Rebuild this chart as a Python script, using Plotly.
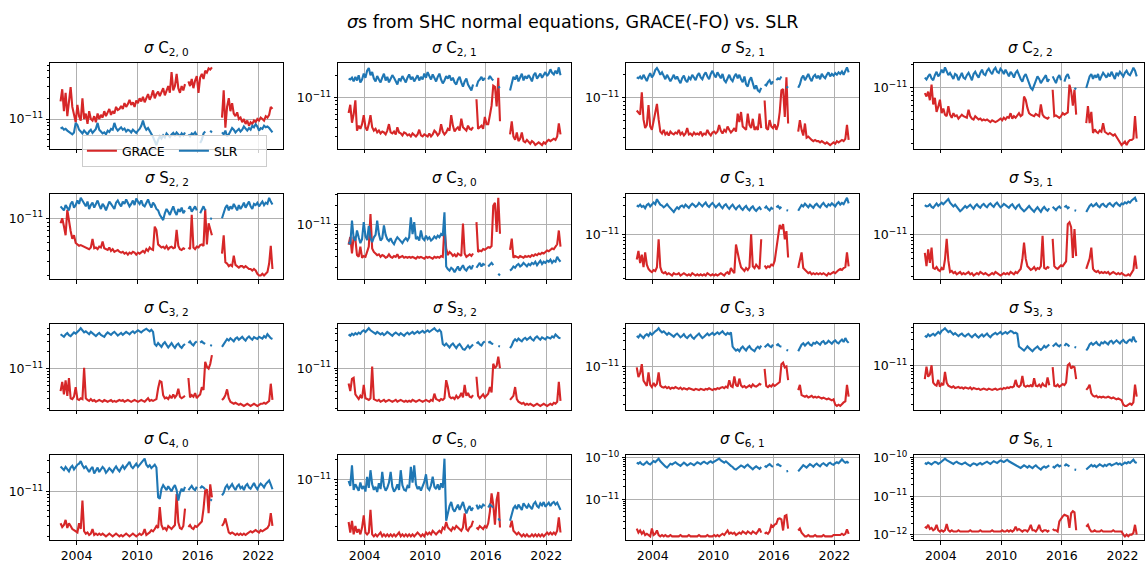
import math
import pandas as pd
import plotly.graph_objects as go

# Formal errors, stored in units of 1e-13; two-monthly samples from mid-2002.
SCALE = 1e-13
months = pd.date_range("2002-06-01", periods=127, freq="2MS")

c20_grace = [180, 270, 130, 240, 110, 200, 290, 150, 110, 90, 160, 110,
             95, 200, 100, 120, 85, 130, 100, 95, 110, 90, 120, 100,
             115, 105, 130, 110, 125, 140, 115, 130, 120, 150, 135, 140,
             155, 140, 170, 150, 165, 190, 160, 175, 150, 185, 170, 200,
             180, 210, 175, 200, 230, 190, 215, 260, 200, 230, 250, 215,
             240, 280, 220, 260, 300, 240, 480, 260, 300, 450, 280, 240,
             300, 260, 320, None, 350, 300, 380, 280, 360, 420, 240, 400,
             450, 380, 500, 470, 540, 520, 560,
             None, None, None, None, None,
             105, 260, 75, 150, 200, 130, 170, 120, 110, 125, 100, 105,
             90, 100, 85, 95, 80, 90, 85, 95, 90, 100, 95, 105,
             100, 95, 110, 105, 115, 150, 140]
c20_slr = [73, 75, 70, 72, 68, 65, 62, 60, 64, 88, 82, 70,
           66, 62, 68, 64, 60, 66, 70, 63, 67, 72, 88, 70,
           66, 62, 64, 60, 68, 65, 72, 70, 88, 74, 68, 72,
           76, 70, 73, 66, 70, 68, 64, 70, 66, 63, 68, 72,
           80, 95, 78, 70, 74, 68, 62, 55, 48, 42, 50, 56,
           52, 58, 54, 62, 58, 55, 60, 63, 58, 64, 60, 56,
           62, 58, 64, None, 60, 56, 62, 60, 64, 58, None, 45,
           50, 62, 66, None, None, 68, 64,
           None, None, None, None, None,
           64, 60, 68, 56, 60, 66, 74, 70, 64, 68, 72, 66,
           70, 78, 72, 68, 74, 70, 80, 76, 84, 78, 68, 74,
           72, 80, 76, 78, 74, 70, 64]

c21_grace = [62, 80, 46, 60, 92, 36, 42, 38, 44, 58, 40, 36,
             44, 58, 40, 36, 38, 34, 36, 33, 35, 34, 32, 36,
             44, 34, 33, 35, 32, 40, 34, 33, 31, 34, 33, 31,
             32, 30, 33, 31, 30, 32, 37, 31, 30, 32, 31, 30,
             33, 30, 32, 36, 34, 31, 33, 44, 35, 32, 34, 38,
             36, 58, 42, 35, 38, 40, 36, 52, 40, 38, 36, 42,
             38, 37, 40, None, 95, 38, 40, 42, 38, 55, 44, 44,
             58, 78, 145, 140, 76, 185, 48,
             None, None, None, None, None,
             32, 48, 30, 27, 34, 26, 28, 34, 26, 25, 27, 25,
             24, 26, 25, 23, 24, 25, 24, 23, 25, 24, 26, 27,
             26, 27, 28, 27, 30, 45, 32]
c21_slr = [180, 175, 185, 165, 190, 170, 200, 160, 175, 210, 185, 230,
           250, 200, 220, 180, 165, 195, 175, 160, 185, 210, 170, 190,
           160, 175, 200, 185, 165, 150, 180, 170, 195, 175, 160, 185,
           205, 175, 190, 165, 180, 200, 170, 190, 175, 210, 185, 220,
           195, 175, 205, 180, 165, 190, 210, 175, 155, 170, 195, 180,
           200, 170, 185, 160, 150, 175, 190, 160, 140, 165, 180, 150,
           135, 125, 150, None, 140, 165, 175, 190, 170, 185, None, 175,
           195, 180, 170, None, None, 135, 140,
           None, None, None, None, None,
           125, 160, 190, 175, 200, 165, 185, 210, 170, 195, 180, 200,
           185, 165, 200, 215, 180, 195, 210, 185, 200, 220, 195, 210,
           240, 215, 205, 230, 210, 255, 200]

s21_grace = [68, 64, 60, 118, 52, 40, 44, 80, 42, 38, 50, 59,
             83, 52, 36, 34, 38, 33, 35, 32, 36, 34, 33, 35,
             34, 38, 33, 35, 32, 34, 40, 33, 34, 32, 35, 33,
             34, 33, 36, 32, 34, 33, 38, 34, 32, 35, 36, 34,
             36, 44, 37, 34, 38, 36, 42, 38, 35, 37, 40, 36,
             62, 48, 65, 42, 40, 38, 62, 44, 40, 53, 38, 41,
             38, 62, 40, None, 92, 40, 38, 51, 42, 40, 45, 38,
             44, 65, 125, 130, 56, 185, 46,
             None, None, None, None, None,
             36, 51, 38, 32, 46, 30, 31, 29, 28, 27, 28, 27,
             27, 26, 27, 26, 25, 26, 25, 24, 25, 26, 25, 27,
             26, 27, 28, 27, 29, 44, 28]
s21_slr = [185, 180, 190, 175, 200, 185, 165, 190, 210, 185, 200, 230,
           245, 225, 200, 215, 190, 175, 200, 185, 165, 180, 200, 175,
           190, 170, 155, 180, 195, 170, 160, 185, 175, 200, 185, 170,
           195, 210, 185, 175, 200, 215, 190, 175, 205, 225, 200, 185,
           215, 195, 180, 205, 170, 160, 185, 200, 175, 165, 190, 205,
           180, 200, 175, 160, 190, 150, 140, 170, 185, 160, 130, 145,
           125, 120, 135, None, 150, 145, 160, 170, 150, 165, None, 170,
           180, 175, 190, None, None, 140, 135,
           None, None, None, None, None,
           135, 150, 180, 195, 170, 190, 205, 180, 165, 190, 200, 180,
           195, 175, 205, 190, 180, 200, 215, 190, 205, 195, 210, 200,
           215, 205, 220, 200, 230, 250, 215]

c22_grace = [86, 78, 90, 70, 110, 62, 75, 50, 58, 71, 48, 55,
             46, 44, 59, 46, 42, 48, 44, 45, 41, 43, 46, 44,
             43, 42, 53, 44, 41, 40, 44, 42, 40, 41, 39, 40,
             39, 40, 38, 37, 39, 38, 37, 38, 40, 41, 39, 42,
             40, 43, 42, 48, 41, 44, 42, 45, 48, 44, 46, 78,
             71, 56, 48, 46, 45, 44, 47, 46, 44, 62, 46, 43,
             42, 41, 43, None, 95, 44, 45, 43, 42, 44, 48, 46,
             47, 49, 110, 91, 60, 95, 46,
             None, None, None, None, None,
             36, 59, 36, 50, 27, 30, 28, 27, 29, 28, 36, 28,
             27, 26, 27, 26, 25, 26, 24, 22, 21, 19, 20, 21,
             19, 21, 22, 22, 23, 44, 23]
c22_slr = [135, 128, 140, 150, 132, 125, 145, 160, 140, 150, 170, 155,
           182, 160, 145, 155, 140, 130, 150, 145, 125, 140, 155, 135,
           130, 145, 155, 140, 125, 150, 160, 145, 135, 155, 170, 150,
           145, 165, 175, 160, 150, 170, 180, 160, 155, 175, 165, 150,
           170, 155, 140, 160, 150, 135, 155, 165, 145, 130, 120, 140,
           150, 130, 115, 100, 95, 110, 125, 140, 130, 115, 125, 135,
           145, 120, 130, None, 140, 125, 115, 135, 145, 125, None, 120,
           140, 150, 130, None, None, 100, 96,
           None, None, None, None, None,
           100, 120, 140, 150, 130, 145, 135, 150, 125, 140, 155, 145,
           135, 150, 140, 160, 145, 130, 155, 145, 160, 150, 140, 155,
           165, 150, 145, 160, 180, 165, 140]

s22_grace = [87, 100, 80, 62, 127, 90, 70, 56, 62, 50, 48, 46,
             47, 46, 45, 44, 43, 42, 44, 56, 43, 44, 42, 45,
             44, 52, 43, 42, 41, 44, 40, 42, 39, 40, 41, 39,
             38, 39, 37, 38, 36, 38, 37, 39, 38, 36, 38, 37,
             39, 40, 38, 42, 40, 44, 42, 41, 79, 72, 48, 46,
             44, 45, 43, 46, 42, 44, 45, 43, 44, 72, 46, 42,
             41, 43, 42, None, 44, 42, 110, 44, 42, 45, 44, 47,
             48, 46, 130, 48, 87, 72, 62,
             None, None, None, None, None,
             37, 62, 29, 28, 26, 27, 26, 35, 27, 26, 25, 26,
             26, 25, 26, 25, 24, 24, 23, 24, 23, 21, 20, 20,
             21, 20, 21, 22, 28, 46, 24]
s22_slr = [140, 130, 125, 145, 135, 125, 150, 160, 135, 145, 165, 150,
           178, 165, 150, 140, 160, 130, 145, 155, 135, 150, 165, 145,
           130, 150, 140, 125, 145, 160, 150, 140, 130, 155, 165, 150,
           140, 160, 150, 170, 155, 140, 150, 165, 145, 175, 160, 150,
           165, 145, 140, 155, 170, 150, 135, 155, 145, 130, 125, 110,
           100, 95, 115, 130, 120, 110, 125, 140, 120, 110, 130, 120,
           135, 115, 125, None, 130, 140, 120, 130, 140, 125, None, 115,
           130, 140, 125, None, None, 100, 98,
           None, None, None, None, None,
           100, 118, 135, 145, 125, 140, 130, 150, 135, 125, 145, 130,
           140, 155, 135, 145, 160, 140, 130, 150, 145, 155, 140, 150,
           160, 145, 155, 150, 178, 160, 147]

c30_grace = [47, 63, 34, 63, 58, 32, 30, 44, 29, 31, 30, 36,
             44, 147, 41, 36, 34, 32, 33, 30, 32, 31, 29, 30,
             33, 30, 29, 31, 30, 33, 29, 30, 31, 29, 30, 29,
             30, 29, 30, 29, 28, 30, 29, 30, 29, 28, 30, 29,
             30, 29, 28, 30, 29, 30, 29, 31, 30, 91, 41, 32,
             36, 34, 31, 33, 30, 34, 32, 31, 104, 34, 30, 32,
             33, 31, 34, None, 109, 36, 38, 37, 40, 39, 41, 43,
             42, 45, 200, 225, 76, 270, 71,
             None, None, None, None, None,
             39, 59, 29, 31, 30, 29, 31, 30, 29, 31, 30, 31,
             30, 32, 31, 33, 32, 34, 33, 35, 34, 36, 38, 37,
             39, 41, 40, 43, 48, 80, 44]
c30_slr = [52, 48, 116, 60, 55, 80, 62, 50, 58, 109, 65, 56,
           95, 60, 52, 62, 68, 116, 70, 55, 60, 97, 68, 58,
           54, 60, 52, 48, 56, 62, 58, 54, 50, 56, 60, 55,
           62, 130, 70, 109, 58, 62, 55, 80, 60, 56, 66, 58,
           62, 55, 58, 64, 60, 66, 62, 70, 66, 157, 21, 19,
           18, 20, 19, 17, 19, 21, 18, 20, 22, 19, 18, 20,
           21, 19, 22, None, 20, 22, 24, 21, 23, 22, None, 21,
           23, 24, 22, None, None, 16, 15,
           None, None, None, None, None,
           18, 19, 21, 20, 22, 23, 21, 22, 24, 22, 21, 23,
           22, 24, 23, 25, 22, 24, 26, 23, 25, 24, 26, 25,
           27, 24, 26, 25, 30, 27, 25]

c31_grace = [40, 55, 35, 48, 30, 52, 33, 28, 26, 25, 27, 26,
             30, 85, 30, 25, 24, 25, 23, 24, 23, 22, 24, 23,
             23, 24, 22, 23, 24, 23, 22, 23, 22, 24, 23, 22,
             23, 22, 23, 22, 23, 22, 24, 23, 22, 23, 22, 23,
             22, 23, 24, 23, 22, 24, 25, 23, 29, 26, 24, 70,
             48, 38, 30, 28, 26, 29, 27, 30, 102, 31, 29, 33,
             30, 28, 85, None, 32, 29, 31, 30, 33, 32, 38, 60,
             102, 146, 124, 150, 85, 115, 43,
             None, None, None, None, None,
             29, 40, 52, 29, 27, 25, 24, 25, 23, 24, 23, 24,
             23, 24, 23, 24, 23, 22, 24, 23, 24, 25, 24, 26,
             27, 28, 27, 29, 30, 52, 31]
c31_slr = [300, 290, 310, 285, 295, 270, 305, 320, 290, 310, 335, 315,
           380, 340, 310, 300, 280, 295, 315, 290, 270, 250, 235, 260,
           280, 265, 290, 300, 280, 310, 295, 275, 300, 320, 305, 285,
           300, 330, 310, 290, 315, 335, 300, 285, 310, 330, 305, 280,
           300, 320, 290, 270, 300, 315, 285, 265, 290, 310, 280, 260,
           285, 300, 270, 255, 280, 295, 265, 250, 275, 290, 260, 245,
           265, 280, 255, None, 270, 290, 265, 250, 275, 260, None, 280,
           295, 270, 285, None, None, 252, 248,
           None, None, None, None, None,
           246, 280, 305, 290, 320, 300, 280, 310, 295, 275, 305, 320,
           295, 280, 310, 330, 300, 285, 315, 300, 325, 305, 290, 320,
           340, 310, 330, 315, 360, 400, 325]

s31_grace = [50, 30, 57, 34, 61, 28, 27, 29, 26, 25, 28, 26,
             39, 85, 37, 24, 25, 23, 24, 22, 23, 24, 22, 23,
             22, 23, 24, 22, 23, 21, 22, 23, 22, 24, 23, 22,
             23, 22, 21, 22, 23, 22, 24, 23, 22, 21, 22, 23,
             22, 23, 22, 24, 23, 22, 24, 23, 25, 27, 39, 74,
             40, 30, 28, 26, 27, 29, 26, 28, 27, 30, 96, 28,
             27, 29, 28, None, 85, 30, 28, 27, 29, 31, 30, 33,
             36, 150, 161, 133, 41, 124, 44,
             None, None, None, None, None,
             27, 33, 40, 61, 27, 25, 24, 25, 23, 24, 23, 24,
             23, 24, 22, 23, 24, 23, 22, 23, 22, 23, 22, 21,
             21, 22, 21, 23, 26, 45, 27]
s31_slr = [310, 295, 300, 320, 290, 280, 305, 330, 300, 315, 340, 320,
           345, 370, 390, 340, 310, 295, 315, 290, 270, 245, 260, 285,
           300, 280, 295, 315, 290, 270, 300, 320, 295, 280, 310, 325,
           300, 285, 315, 330, 305, 290, 320, 340, 310, 285, 300, 325,
           310, 295, 280, 305, 320, 290, 270, 300, 315, 280, 265, 245,
           260, 285, 300, 275, 250, 240, 265, 285, 260, 240, 270, 290,
           265, 250, 275, None, 290, 270, 255, 280, 295, 270, None, 285,
           300, 275, 290, None, None, 255, 250,
           None, None, None, None, None,
           238, 270, 300, 320, 295, 310, 330, 300, 285, 315, 325, 300,
           290, 320, 335, 310, 295, 325, 340, 315, 300, 330, 320, 345,
           330, 355, 340, 370, 395, 410, 350]

c32_grace = [40, 58, 35, 62, 33, 68, 30, 29, 32, 47, 29, 28,
             30, 29, 103, 30, 28, 27, 29, 27, 28, 26, 27, 28,
             27, 26, 28, 27, 26, 27, 28, 26, 27, 26, 27, 28,
             27, 28, 26, 27, 28, 27, 26, 27, 28, 27, 26, 27,
             28, 27, 26, 28, 30, 27, 28, 27, 28, 29, 45, 60,
             58, 34, 30, 31, 29, 33, 30, 35, 31, 34, 44, 32,
             30, 31, 33, None, 68, 31, 34, 32, 37, 30, 33, 35,
             47, 42, 131, 107, 100, 120, 172,
             None, None, None, None, None,
             28, 30, 34, 43, 30, 26, 25, 24, 25, 24, 23, 24,
             23, 22, 23, 24, 23, 22, 23, 24, 23, 22, 23, 24,
             24, 25, 24, 26, 27, 54, 28]
c32_slr = [400, 380, 360, 395, 420, 385, 370, 400, 430, 410, 450, 470,
           510, 460, 430, 450, 420, 400, 440, 410, 390, 370, 400, 420,
           390, 380, 360, 400, 430, 410, 390, 420, 440, 410, 380, 400,
           420, 390, 410, 440, 420, 400, 430, 450, 420, 440, 470, 450,
           430, 460, 480, 500, 470, 450, 480, 440, 270, 250, 280, 260,
           240, 270, 290, 260, 235, 255, 280, 250, 230, 260, 275, 245,
           230, 255, 270, None, 280, 300, 270, 255, 285, 300, None, 285,
           300, 280, 270, None, None, 258, 250,
           None, None, None, None, None,
           240, 265, 300, 330, 310, 340, 320, 300, 335, 350, 320, 340,
           360, 330, 310, 345, 365, 340, 320, 355, 340, 330, 360, 345,
           335, 370, 350, 400, 360, 340, 330]

s32_grace = [54, 40, 65, 68, 35, 31, 29, 33, 30, 51, 30, 29,
             28, 30, 107, 29, 28, 27, 28, 26, 27, 28, 26, 27,
             28, 27, 26, 27, 28, 26, 27, 28, 27, 26, 27, 26,
             27, 26, 28, 27, 26, 27, 28, 27, 26, 27, 28, 27,
             26, 28, 27, 36, 29, 28, 27, 29, 28, 30, 62, 47,
             32, 30, 31, 29, 33, 30, 32, 37, 31, 51, 33, 37,
             32, 31, 34, None, 71, 33, 30, 32, 35, 31, 34, 36,
             47, 38, 120, 100, 110, 160, 100,
             None, None, None, None, None,
             28, 30, 33, 47, 29, 26, 25, 24, 25, 23, 24, 23,
             24, 23, 22, 23, 24, 23, 22, 23, 24, 23, 22, 23,
             24, 23, 25, 24, 26, 58, 27]
s32_slr = [390, 370, 400, 380, 410, 390, 420, 400, 440, 460, 430, 470,
           500, 460, 440, 420, 400, 430, 410, 390, 410, 380, 400, 430,
           410, 390, 370, 400, 420, 400, 380, 410, 390, 370, 400, 420,
           390, 410, 430, 400, 420, 440, 410, 430, 450, 420, 440, 460,
           430, 450, 470, 500, 460, 440, 470, 430, 265, 250, 270, 245,
           230, 255, 270, 245, 225, 250, 265, 240, 215, 210, 235, 250,
           225, 245, 260, None, 270, 285, 260, 250, 280, 295, None, 280,
           290, 270, 265, None, None, 245, 240,
           None, None, None, None, None,
           225, 250, 295, 320, 300, 330, 310, 295, 325, 340, 315, 335,
           350, 320, 305, 340, 360, 335, 315, 345, 330, 320, 350, 340,
           330, 360, 345, 390, 355, 340, 335]

c33_grace = [96, 64, 75, 110, 55, 50, 44, 78, 46, 42, 50, 44,
             48, 78, 45, 42, 41, 43, 40, 42, 39, 41, 40, 42,
             40, 39, 41, 38, 40, 39, 38, 40, 39, 38, 37, 39,
             38, 37, 39, 38, 37, 39, 38, 40, 38, 37, 39, 38,
             40, 39, 41, 42, 40, 43, 41, 56, 44, 42, 66, 46,
             43, 60, 45, 42, 44, 41, 43, 45, 42, 47, 44, 43,
             45, 48, 46, None, 90, 44, 42, 45, 43, 47, 44, 46,
             48, 52, 110, 118, 96, 100, 56,
             None, None, None, None, None,
             37, 46, 30, 29, 28, 29, 27, 28, 29, 27, 28, 27,
             28, 27, 26, 27, 26, 25, 26, 25, 24, 25, 20, 19,
             20, 19, 21, 22, 23, 46, 28]
c33_slr = [360, 340, 380, 350, 330, 370, 390, 360, 410, 380, 420, 440,
           460, 500, 450, 420, 440, 400, 380, 410, 390, 360, 350, 380,
           400, 370, 340, 360, 390, 350, 330, 360, 380, 340, 320, 350,
           370, 400, 360, 330, 350, 380, 400, 370, 390, 410, 380, 400,
           420, 390, 410, 440, 400, 380, 410, 390, 420, 230, 210, 195,
           205, 190, 215, 230, 210, 195, 220, 235, 210, 200, 190, 215,
           230, 215, 240, None, 225, 245, 255, 235, 225, 250, None, 240,
           255, 235, 230, None, None, 200, 195,
           None, None, None, None, None,
           190, 215, 250, 265, 240, 260, 275, 250, 240, 270, 260, 280,
           265, 250, 280, 290, 260, 270, 295, 275, 260, 285, 300, 275,
           265, 290, 310, 280, 330, 290, 270]

s33_grace = [58, 97, 64, 70, 103, 50, 46, 44, 56, 42, 48, 45,
             78, 50, 44, 42, 41, 43, 40, 41, 42, 40, 41, 39,
             41, 40, 39, 41, 38, 40, 39, 38, 39, 37, 38, 39,
             38, 37, 39, 38, 37, 38, 39, 37, 38, 39, 38, 40,
             39, 41, 40, 42, 41, 43, 56, 44, 42, 45, 66, 44,
             42, 44, 43, 45, 42, 60, 44, 43, 46, 42, 48, 44,
             43, 62, 45, None, 95, 44, 43, 46, 42, 44, 47, 45,
             50, 103, 110, 90, 98, 95, 58,
             None, None, None, None, None,
             37, 40, 46, 32, 29, 28, 29, 27, 28, 27, 28, 27,
             27, 28, 27, 26, 27, 26, 25, 26, 25, 24, 20, 19,
             19, 20, 21, 20, 22, 46, 28]
s33_slr = [350, 335, 370, 345, 365, 380, 355, 390, 410, 385, 430, 450,
           480, 440, 410, 430, 395, 370, 390, 360, 345, 370, 385, 355,
           340, 365, 380, 350, 330, 355, 375, 345, 325, 350, 370, 340,
           360, 385, 350, 330, 360, 380, 395, 370, 385, 410, 375, 395,
           410, 385, 405, 430, 415, 390, 400, 380, 225, 210, 200, 190,
           205, 225, 210, 195, 185, 200, 215, 225, 205, 195, 210, 230,
           215, 235, 245, None, 225, 240, 255, 235, 225, 245, None, 230,
           250, 240, 225, None, None, 220, 215,
           None, None, None, None, None,
           190, 210, 245, 260, 240, 255, 270, 245, 235, 265, 255, 275,
           260, 245, 275, 285, 255, 270, 290, 270, 255, 280, 295, 270,
           260, 285, 300, 280, 340, 285, 270]

c40_grace = [32, 28, 30, 36, 27, 32, 29, 26, 25, 24, 23, 32,
             26, 72, 24, 22, 23, 21, 22, 26, 21, 22, 21, 22,
             21, 22, 21, 20, 21, 22, 21, 20, 21, 22, 21, 20,
             21, 20, 21, 22, 21, 20, 21, 22, 21, 20, 21, 22,
             21, 22, 26, 21, 22, 23, 25, 24, 26, 29, 27, 57,
             30, 26, 27, 25, 29, 27, 26, 28, 30, 91, 33, 27,
             26, 29, 54, None, 28, 30, 27, 26, 29, 28, 30, 32,
             34, 54, 102, 108, 46, 129, 81,
             None, None, None, None, None,
             29, 32, 38, 30, 23, 22, 23, 22, 21, 22, 21, 22,
             21, 22, 21, 22, 23, 24, 23, 24, 25, 24, 23, 25,
             24, 25, 26, 27, 30, 46, 29]
c40_slr = [243, 230, 215, 240, 225, 205, 235, 250, 220, 240, 260, 270,
           295, 255, 230, 245, 215, 200, 225, 240, 190, 210, 235, 200,
           215, 240, 225, 195, 210, 230, 215, 200, 225, 245, 220, 205,
           230, 250, 225, 240, 265, 288, 245, 230, 250, 270, 240, 260,
           275, 300, 323, 260, 240, 255, 230, 245, 260, 235, 81, 77,
           110, 125, 115, 105, 120, 110, 100, 115, 125, 105, 72, 95,
           110, 100, 118, None, 105, 115, 122, 110, 105, 118, None, 112,
           120, 115, 108, None, None, 75, 72,
           None, None, None, None, None,
           87, 95, 115, 125, 110, 120, 130, 115, 105, 120, 128, 112,
           118, 105, 122, 130, 115, 110, 125, 135, 118, 108, 122, 132,
           125, 115, 130, 140, 148, 128, 108]

c50_grace = [23, 16, 24, 15, 20, 16, 18, 15, 19, 29, 16, 15,
             16, 35, 15, 14, 15, 14, 15, 16, 14, 15, 14, 15,
             14, 15, 14, 15, 14, 15, 16, 14, 15, 14, 15, 14,
             15, 14, 15, 14, 15, 16, 15, 14, 15, 14, 16, 15,
             16, 15, 17, 16, 15, 16, 17, 16, 19, 18, 23, 19,
             18, 17, 19, 18, 20, 19, 18, 17, 19, 31, 18, 17,
             19, 20, 24, None, 19, 18, 20, 19, 18, 20, 19, 22,
             33, 62, 42, 21, 50, 65, 19,
             None, None, None, None, None,
             19, 24, 17, 16, 15, 16, 15, 14, 15, 14, 15, 14,
             14, 15, 14, 15, 14, 15, 14, 15, 14, 15, 16, 15,
             16, 15, 16, 15, 17, 27, 16]
c50_slr = [95, 80, 164, 70, 85, 75, 68, 90, 72, 80, 66, 110,
           75, 138, 85, 70, 78, 65, 88, 72, 130, 80, 68, 75,
           90, 130, 78, 66, 72, 85, 70, 138, 82, 70, 68, 80,
           75, 155, 90, 164, 85, 72, 78, 68, 80, 92, 120, 75,
           70, 82, 110, 78, 72, 85, 70, 88, 75, 206, 24, 32,
           40, 46, 36, 33, 38, 42, 35, 40, 46, 37, 31, 36,
           40, 34, 38, None, 42, 36, 40, 38, 42, 40, None, 38,
           42, 40, 38, None, None, 26, 24,
           None, None, None, None, None,
           24, 30, 37, 40, 36, 42, 38, 35, 44, 40, 37, 42,
           39, 36, 43, 46, 40, 38, 44, 41, 46, 39, 42, 45,
           40, 44, 46, 42, 45, 40, 35]

c61_grace = [20, 16, 18, 15, 17, 14, 15, 14, 13, 20, 14, 15,
             18, 14, 13, 14, 13, 14, 13, 13, 14, 13, 13, 13,
             13, 13, 14, 13, 13, 13, 13, 14, 13, 13, 13, 13,
             13, 14, 13, 13, 13, 13, 14, 13, 13, 13, 14, 13,
             14, 13, 14, 15, 14, 16, 18, 15, 16, 15, 16, 14,
             15, 16, 15, 17, 16, 15, 17, 16, 15, 17, 16, 15,
             17, 20, 16, None, 15, 16, 15, 17, 24, 22, 25, 26,
             34, 35, 33, 18, 40, 42, 20,
             None, None, None, None, None,
             18, 20, 16, 14, 13, 13, 14, 13, 13, 13, 14, 13,
             13, 13, 13, 14, 13, 13, 13, 13, 13, 14, 14, 14,
             14, 14, 15, 14, 15, 19, 15]
c61_slr = [760, 720, 780, 700, 680, 740, 800, 720, 690, 760, 830, 780,
           850, 950, 820, 740, 680, 620, 580, 650, 720, 690, 740, 780,
           720, 680, 640, 700, 760, 710, 650, 690, 740, 700, 660, 720,
           780, 740, 700, 760, 800, 750, 720, 780, 820, 760, 800, 850,
           900, 950, 860, 800, 760, 820, 740, 700, 640, 600, 540, 520,
           560, 600, 650, 620, 580, 640, 680, 620, 560, 530, 580, 620,
           580, 540, 600, None, 640, 600, 660, 700, 640, 600, None, 660,
           700, 650, 620, None, None, 470, 480,
           None, None, None, None, None,
           470, 520, 600, 660, 620, 580, 640, 700, 660, 610, 680, 720,
           660, 620, 700, 740, 680, 640, 720, 760, 700, 680, 740, 780,
           740, 800, 910, 820, 760, 800, 740]

s61_grace = [16, 15, 18, 14, 15, 13, 14, 18, 13, 12, 13, 12,
             13, 19, 13, 12, 13, 12, 12, 12, 13, 12, 12, 12,
             12, 12, 12, 13, 12, 12, 12, 12, 12, 13, 12, 12,
             12, 12, 12, 12, 13, 12, 12, 12, 12, 12, 13, 12,
             12, 13, 12, 13, 12, 13, 16, 13, 14, 13, 12, 13,
             13, 12, 14, 18, 13, 13, 12, 14, 18, 13, 12, 13,
             13, 12, 13, None, 14, 13, 13, 12, 22, 26, 30, 33,
             32, 30, 15, 36, 41, 38, 13,
             None, None, None, None, None,
             16, 18, 14, 12, 12, 13, 12, 12, 12, 13, 12, 12,
             12, 12, 12, 12, 13, 12, 12, 12, 12, 12, 10, 9,
             10, 9, 10, 10, 11, 18, 10]
s61_slr = [740, 700, 760, 720, 680, 740, 790, 760, 700, 740, 800, 860,
           960, 880, 820, 780, 740, 700, 760, 800, 740, 700, 680, 720,
           760, 700, 660, 620, 680, 720, 700, 650, 700, 740, 680, 720,
           760, 800, 740, 700, 760, 820, 780, 740, 800, 860, 820, 780,
           840, 900, 820, 780, 740, 700, 660, 620, 580, 550, 600, 640,
           600, 560, 620, 580, 540, 600, 640, 580, 540, 500, 560, 600,
           560, 600, 640, None, 600, 560, 620, 660, 600, 640, None, 620,
           680, 640, 600, None, None, 500, 490,
           None, None, None, None, None,
           500, 560, 620, 660, 600, 640, 580, 620, 680, 640, 600, 660,
           620, 680, 700, 640, 660, 700, 740, 680, 720, 660, 700, 760,
           720, 780, 740, 820, 900, 780, 740]

panels = [
    ("C", 2, 0, c20_grace, c20_slr), ("C", 2, 1, c21_grace, c21_slr),
    ("S", 2, 1, s21_grace, s21_slr), ("C", 2, 2, c22_grace, c22_slr),
    ("S", 2, 2, s22_grace, s22_slr), ("C", 3, 0, c30_grace, c30_slr),
    ("C", 3, 1, c31_grace, c31_slr), ("S", 3, 1, s31_grace, s31_slr),
    ("C", 3, 2, c32_grace, c32_slr), ("S", 3, 2, s32_grace, s32_slr),
    ("C", 3, 3, c33_grace, c33_slr), ("S", 3, 3, s33_grace, s33_slr),
    ("C", 4, 0, c40_grace, c40_slr), ("C", 5, 0, c50_grace, c50_slr),
    ("C", 6, 1, c61_grace, c61_slr), ("S", 6, 1, s61_grace, s61_slr),
]

RED, BLUE = "#d62728", "#1f77b4"
FONT = "DejaVu Sans"
W, H = 1145, 566
COL_LEFT = [50, 338.3, 626.7, 915]
ROW_TOP = [58.3, 190.6, 322.9, 455.2]
AX_W, AX_H = 233.3, 86.7
YEAR_TICKS = [2004, 2010, 2016, 2022]
LINE_W = 2.1


def scaled(series):
    return [None if v is None else v * SCALE for v in series]


def sup_label(e):
    return "10<sup>\u2212%d</sup>" % abs(e) if e < 0 else "10<sup>%d</sup>" % e


# date range with 5% padding on each side
t0, t1 = months[0], months[-1]
pad_t = (t1 - t0) * 0.05
x_lo, x_hi = t0 - pad_t, t1 + pad_t

fig = go.Figure()
layout = dict(
    width=W, height=H, autosize=False,
    margin=dict(l=0, r=0, t=0, b=0),
    paper_bgcolor="white", plot_bgcolor="white",
    font=dict(family=FONT, size=12.5, color="black"),
    showlegend=True,
    legend=dict(
        orientation="h", x=82 / W, y=1 - 131 / H, xanchor="left", yanchor="top",
        bgcolor="rgba(255,255,255,0.8)", bordercolor="#cccccc", borderwidth=1,
        font=dict(family=FONT, size=12.5), itemwidth=30, tracegroupgap=0,
        entrywidth=47, entrywidthmode="pixels",
    ),
    annotations=[],
)

for i, (cs, n, m, grace, slr) in enumerate(panels):
    r, c = divmod(i, 4)
    ax = i + 1
    left, top = COL_LEFT[c], ROW_TOP[r]
    right = min(left + AX_W, W)
    frac = (right - left) / AX_W
    xr_hi = x_lo + (x_hi - x_lo) * frac

    fig.add_trace(go.Scatter(
        x=months, y=scaled(grace), mode="lines", name="GRACE",
        line=dict(color=RED, width=LINE_W), legendgroup="GRACE",
        showlegend=(i == 0), xaxis="x%d" % ax, yaxis="y%d" % ax))
    fig.add_trace(go.Scatter(
        x=months, y=scaled(slr), mode="lines", name="SLR",
        line=dict(color=BLUE, width=LINE_W), legendgroup="SLR",
        showlegend=(i == 0), xaxis="x%d" % ax, yaxis="y%d" % ax))

    vals = [v * SCALE for v in grace + slr if v is not None]
    lo, hi = math.log10(min(vals)), math.log10(max(vals))
    pad = 0.05 * (hi - lo)
    y_lo, y_hi = lo - pad, hi + pad

    major, labels, minor = [], [], []
    for e in range(math.floor(y_lo), math.ceil(y_hi) + 1):
        if y_lo <= e <= y_hi:
            major.append(10.0 ** e)
            labels.append(sup_label(e))
        for k in range(2, 10):
            lv = e + math.log10(k)
            if y_lo <= lv <= y_hi:
                minor.append(k * 10.0 ** e)

    layout["xaxis%d" % ax] = dict(
        domain=[left / W, right / W], anchor="y%d" % ax, type="date",
        range=[x_lo.isoformat(), xr_hi.isoformat()],
        tickmode="array",
        tickvals=[pd.Timestamp("%d-01-01" % y) for y in YEAR_TICKS],
        ticktext=[str(y) for y in YEAR_TICKS],
        showticklabels=(r == 3), ticks="outside", ticklen=3.5, tickwidth=0.8,
        tickcolor="black", showgrid=True, gridcolor="#b0b0b0", gridwidth=0.8,
        showline=True, mirror=True, linecolor="black", linewidth=0.8,
        zeroline=False, tickfont=dict(family=FONT, size=12.5),
    )
    layout["yaxis%d" % ax] = dict(
        domain=[1 - (top + AX_H) / H, 1 - top / H], anchor="x%d" % ax,
        type="log", range=[y_lo, y_hi],
        tickmode="array", tickvals=major, ticktext=labels,
        ticks="outside", ticklen=3.5, tickwidth=0.8, tickcolor="black",
        minor=dict(tickmode="array", tickvals=minor, ticks="outside",
                   ticklen=2, tickwidth=0.6, tickcolor="black", showgrid=False),
        showgrid=True, gridcolor="#b0b0b0", gridwidth=0.8,
        showline=True, mirror=True, linecolor="black", linewidth=0.8,
        zeroline=False, tickfont=dict(family=FONT, size=12.5),
    )
    layout["annotations"].append(dict(
        text="<i>\u03c3</i> %s<sub>%d, %d</sub>" % (cs, n, m),
        x=(left + AX_W / 2) / W, y=1 - (top - 4) / H,
        xref="paper", yref="paper", xanchor="center", yanchor="bottom",
        showarrow=False, font=dict(family=FONT, size=15, color="black"),
    ))

layout["annotations"].append(dict(
    text="<i>\u03c3</i>s from SHC normal equations, GRACE(-FO) vs. SLR",
    x=0.5, y=1 - 16 / H, xref="paper", yref="paper",
    xanchor="center", yanchor="middle", showarrow=False,
    font=dict(family=FONT, size=17.5, color="black"),
))

fig.update_layout(**layout)
fig.write_html("out.html")
